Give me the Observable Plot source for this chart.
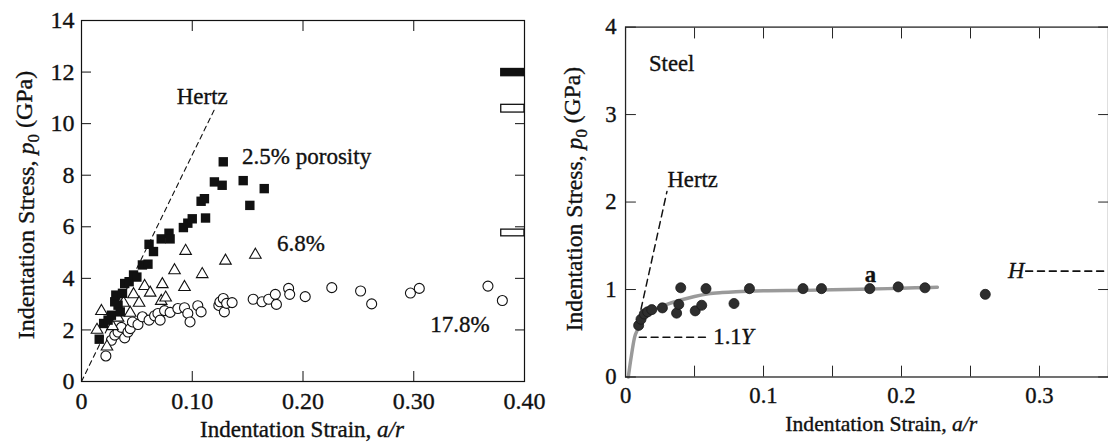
<!DOCTYPE html>
<html>
<head>
<meta charset="utf-8">
<script src="https://cdn.jsdelivr.net/npm/d3@7"></script>
<script src="https://cdn.jsdelivr.net/npm/@observablehq/plot@0.6"></script>
<style>
  html, body { margin: 0; padding: 0; background: #fff; overflow: hidden; }
  #wrap { display: flex; width: 1108px; height: 443px; overflow: hidden; }
  #left { width: 560px; height: 443px; flex: none; }
  #right { width: 548px; height: 443px; flex: none; overflow: hidden; }
  svg { display: block; }
  svg text { stroke: #111; stroke-width: 0.35px; }
</style>
</head>
<body>
<div id="wrap"><div id="left"></div><div id="right"></div></div>
<script>
// ---------- Left panel data (porous ceramic) ----------
const porosity25 = [ // 2.5% porosity, filled squares [a/r, p0 GPa]
  [0.016,1.64],[0.020,2.25],[0.024,2.38],[0.027,2.57],[0.030,3.09],[0.033,2.96],[0.035,2.70],
  [0.031,3.35],[0.037,3.42],[0.039,3.80],[0.043,3.87],[0.047,4.13],[0.050,4.05],[0.055,4.52],
  [0.060,4.55],[0.061,5.32],[0.065,5.04],[0.072,5.53],[0.079,5.75],[0.080,5.53],[0.092,5.97],
  [0.096,6.14],[0.100,6.31],[0.108,6.99],[0.111,7.09],[0.112,6.34],[0.120,7.74],[0.127,7.61],
  [0.128,8.52],[0.146,7.79],[0.152,6.83],[0.165,7.48]
];
const porosity68 = [ // 6.8%, open triangles
  [0.014,2.00],[0.018,2.73],[0.023,1.35],[0.028,2.14],[0.033,2.47],[0.038,3.05],[0.044,2.66],
  [0.047,3.38],[0.052,3.05],[0.057,3.70],[0.062,3.44],[0.073,3.77],[0.072,3.12],[0.076,3.25],
  [0.084,4.31],[0.093,3.66],[0.094,5.06],[0.109,4.16],[0.130,4.68],[0.157,4.91]
];
const porosity178 = [ // 17.8%, open circles
  [0.022,0.99],[0.027,1.60],[0.030,1.80],[0.033,1.92],[0.036,2.10],[0.039,1.69],[0.042,1.92],
  [0.044,2.05],[0.046,2.31],[0.051,2.21],[0.055,2.51],[0.061,2.38],[0.066,2.55],[0.069,2.64],
  [0.071,2.38],[0.075,2.75],[0.080,2.68],[0.087,2.83],[0.093,2.86],[0.096,2.64],[0.098,2.31],
  [0.105,2.94],[0.108,2.70],[0.124,2.95],[0.125,3.09],[0.128,3.22],[0.129,2.70],[0.131,3.03],
  [0.136,3.06],[0.155,3.19],[0.163,3.09],[0.169,3.19],[0.175,3.38],[0.176,2.99],[0.187,3.61],
  [0.188,3.38],[0.202,3.29],[0.226,3.64],[0.252,3.51],[0.262,3.01],[0.297,3.43],[0.305,3.61],
  [0.367,3.70],[0.380,3.14]
];
const hertzLeft = [[0,0],[0.1197,10.52]];
const hardnessBars = [ // [x1, x2, y1, y2, filled]
  [0.379,0.400,11.84,12.12,true],
  [0.379,0.400,10.43,10.73,false],
  [0.379,0.400,5.63,5.89,false]
];
const leftXTicks = [0,0.1,0.2,0.3,0.4];
const leftXLabels = ["0","0.10","0.20","0.30","0.40"];
const leftYTicks = [0,2,4,6,8,10,12,14];
const leftYLabels = ["0","2","4","6","8","10","12","14"];

// ---------- Right panel data (steel) ----------
const steelPoints = [
  [0.0095,0.59],[0.0112,0.66],[0.0136,0.72],[0.016,0.745],[0.019,0.77],[0.0267,0.79],
  [0.037,0.73],[0.0386,0.83],[0.040,1.02],[0.0505,0.756],[0.0552,0.82],[0.0583,1.01],
  [0.0786,0.84],[0.0898,1.01],[0.1286,1.01],[0.142,1.01],[0.177,1.01],[0.1976,1.03],
  [0.217,1.02],[0.2607,0.945]
];
const steelCurve = [
  [0.002,0],[0.004,0.22],[0.0065,0.45],[0.009,0.55],[0.012,0.64],[0.016,0.72],[0.022,0.78],
  [0.030,0.83],[0.040,0.88],[0.050,0.92],[0.060,0.95],[0.070,0.965],[0.080,0.975],[0.100,0.985],
  [0.130,0.99],[0.160,1.00],[0.190,1.01],[0.210,1.02],[0.226,1.025]
];
const hertzRight = [[0.0112,0.775],[0.030,2.12]];
const yieldLine = [[0.010,0.455],[0.061,0.455]];
const hardnessLine = [[0.290,1.21],[0.350,1.21]];
const rightXTicks = [0,0.1,0.2,0.3];
const rightXLabels = ["0","0.1","0.2","0.3"];
const rightXMinor = [0,0.05,0.1,0.15,0.2,0.25,0.3,0.35];
const rightYTicks = [0,1,2,3,4];
const rightYLabels = ["0","1","2","3","4"];

const FONT = "'Liberation Serif', 'Times New Roman', serif";
const FS = 23;      // annotation and title size
const FT = 24;      // tick label size

function axes(xt, xl, xMinor, yt, yl, padX, padY, tick, tickColor, ft) {
  return [
    Plot.axisX({anchor: "bottom", ticks: xt, tickSize: 0, tickPadding: padX,
      tickFormat: d => xl[xt.indexOf(d)], label: null, fontSize: ft}),
    Plot.axisY({anchor: "left", ticks: yt, tickSize: 0, tickPadding: padY,
      tickFormat: d => yl[yt.indexOf(d)], label: null, fontSize: ft}),
    Plot.axisX({anchor: "bottom", ticks: xMinor, tickSize: -tick, tickFormat: () => "", label: null, stroke: tickColor}),
    Plot.axisX({anchor: "top", ticks: xMinor, tickSize: -tick, tickFormat: () => "", label: null, stroke: tickColor}),
    Plot.axisY({anchor: "left", ticks: yt, tickSize: -tick, tickFormat: () => "", label: null, stroke: tickColor}),
    Plot.axisY({anchor: "right", ticks: yt, tickSize: -tick, tickFormat: () => "", label: null, stroke: tickColor})
  ];
}

function addTitles(svg, xCenter, xBase, yCenter, yBase, fx, fy) {
  const s = d3.select(svg);
  const tx = s.append("text").attr("x", xCenter).attr("y", xBase)
    .attr("text-anchor", "middle").attr("fill", "#111")
    .style("font-family", FONT).style("font-size", fx + "px");
  tx.append("tspan").text("Indentation Strain, ");
  tx.append("tspan").attr("font-style", "italic").text("a/r");
  const ty = s.append("text").attr("transform", `translate(${yBase},${yCenter}) rotate(-90)`)
    .attr("text-anchor", "middle").attr("fill", "#111")
    .style("font-family", FONT).style("font-size", fy + "px");
  ty.append("tspan").text("Indentation Stress, ");
  ty.append("tspan").attr("font-style", "italic").text("p");
  ty.append("tspan").attr("dy", "0.3em").style("font-size", Math.round(fy * 0.7) + "px").text("0");
  ty.append("tspan").attr("dy", "-0.3em").text(" (GPa)");
}

// ---------- Left plot ----------
const leftPlot = Plot.plot({
  width: 560, height: 443,
  marginLeft: 81, marginRight: 36, marginTop: 20, marginBottom: 62,
  x: {domain: [0, 0.4]},
  y: {domain: [0, 14]},
  style: {fontFamily: FONT, fontSize: FS + "px", color: "#111", background: "#fff"},
  marks: [
    Plot.line(hertzLeft, {x: d => d[0], y: d => d[1], stroke: "#111", strokeWidth: 1.1, strokeDasharray: "5,4"}),
    Plot.dot(porosity178, {x: d => d[0], y: d => d[1], r: 5, stroke: "#111", strokeWidth: 1.1, fill: "#fff"}),
    Plot.dot(porosity68, {x: d => d[0], y: d => d[1], symbol: "triangle", r: 4.3, stroke: "#111", strokeWidth: 1.1, fill: "#fff"}),
    Plot.dot(porosity25, {x: d => d[0], y: d => d[1], symbol: "square", r: 5.3, fill: "#111", stroke: "none"}),
    Plot.rect(hardnessBars, {x1: d => d[0], x2: d => d[1], y1: d => d[2], y2: d => d[3],
      fill: d => d[4] ? "#111" : "#fff", stroke: "#111", strokeWidth: 1.3}),
    Plot.text(["Hertz"], {x: 0.109, y: 11.05, text: d => d, fontSize: FS, fill: "#111"}),
    Plot.text(["2.5% porosity"], {x: 0.145, y: 8.72, text: d => d, textAnchor: "start", fontSize: FS, fill: "#111"}),
    Plot.text(["6.8%"], {x: 0.1766, y: 5.34, text: d => d, textAnchor: "start", fontSize: FS, fill: "#111"}),
    Plot.text(["17.8%"], {x: 0.315, y: 2.19, text: d => d, textAnchor: "start", fontSize: FS, fill: "#111"}),
    ...axes(leftXTicks, leftXLabels, leftXTicks, leftYTicks, leftYLabels, 10, 7, 10, "#111", FT),
    Plot.frame({stroke: "#111", strokeWidth: 1.2})
  ]
});
addTitles(leftPlot, 302, 437, 205, 34, 23, 24);
document.getElementById("left").appendChild(leftPlot);

// ---------- Right plot ----------
const rightPlot = Plot.plot({
  width: 556, height: 443,
  marginLeft: 66, marginRight: 0, marginTop: 27, marginBottom: 61,
  x: {domain: [0, 0.35]},
  y: {domain: [0, 4]},
  style: {fontFamily: FONT, fontSize: FS + "px", color: "#111", background: "#fff", overflow: "hidden"},
  marks: [
    Plot.line(steelCurve, {x: d => d[0], y: d => d[1], stroke: "#9a9a9a", strokeWidth: 3.5, curve: "monotone-x"}),
    Plot.line(hertzRight, {x: d => d[0], y: d => d[1], stroke: "#111", strokeWidth: 1.5, strokeDasharray: "7,5"}),
    Plot.line(yieldLine, {x: d => d[0], y: d => d[1], stroke: "#111", strokeWidth: 1.6, strokeDasharray: "7,5"}),
    Plot.line(hardnessLine, {x: d => d[0], y: d => d[1], stroke: "#111", strokeWidth: 1.6, strokeDasharray: "7,5"}),
    Plot.dot(steelPoints, {x: d => d[0], y: d => d[1], r: 5.1, fill: "#2e2e2e", stroke: "#1a1a1a", strokeWidth: 0.8}),
    Plot.text(["Steel"], {x: 0.017, y: 3.58, text: d => d, textAnchor: "start", fontSize: FS, fill: "#111"}),
    Plot.text(["Hertz"], {x: 0.0304, y: 2.25, text: d => d, textAnchor: "start", fontSize: FS, fill: "#111"}),
    Plot.text(["a"], {x: 0.1775, y: 1.17, text: d => d, fontSize: FS, fontWeight: "bold", fill: "#111"}),
    Plot.text(["1.1"], {x: 0.0636, y: 0.455, text: d => d, textAnchor: "start", fontSize: FS, fill: "#111"}),
    Plot.text(["Y"], {x: 0.0636, y: 0.455, dx: 28, text: d => d, textAnchor: "start", fontSize: FS, fontStyle: "italic", fill: "#111"}),
    Plot.text(["H"], {x: 0.289, y: 1.21, text: d => d, textAnchor: "end", fontSize: FS, fontStyle: "italic", fill: "#111"}),
    ...axes(rightXTicks, rightXLabels, rightXMinor, rightYTicks, rightYLabels, 10, 9, 11, "#222", 23),
    Plot.frame({stroke: "#222", strokeWidth: 1.3})
  ]
});
addTitles(rightPlot, 326, 437, 202, 22, 22, 24);
document.getElementById("right").appendChild(rightPlot);
</script>
</body>
</html>
